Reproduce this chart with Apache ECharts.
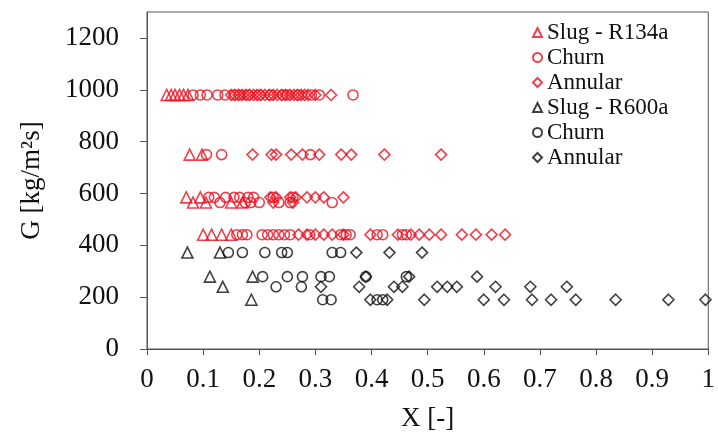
<!DOCTYPE html>
<html lang="en">
<head>
  <meta charset="UTF-8">
  <title>G vs X flow patterns</title>
  <script src="https://cdn.jsdelivr.net/npm/echarts@6/dist/echarts.min.js"></script>
  <style>
    html, body { margin: 0; padding: 0; background: #fff; }
  </style>
</head>
<body>
<div id="main" style="width: 718px; height: 438px;"></div>
<script>
  // each row: [G, list of X values]
  var slugR134a = [
    [980, [0.035, 0.043, 0.05, 0.058, 0.065, 0.073]],
    [750, [0.076, 0.098]],
    [585, [0.07, 0.095]],
    [565, [0.082, 0.105, 0.15, 0.17]],
    [441, [0.1, 0.115, 0.133, 0.15]]
  ]
  var churnR134a = [
    [980, [0.082, 0.095, 0.107, 0.126, 0.139, 0.155, 0.165, 0.18, 0.2, 0.22, 0.242, 0.25, 0.27, 0.293, 0.307, 0.367]],
    [750, [0.106, 0.133, 0.291]],
    [585, [0.11, 0.12, 0.14, 0.155, 0.165, 0.18, 0.19, 0.225, 0.26]],
    [565, [0.13, 0.175, 0.185, 0.2, 0.235, 0.255, 0.33]],
    [441, [0.16, 0.17, 0.178, 0.205, 0.215, 0.225, 0.235, 0.245, 0.255, 0.29, 0.345, 0.355, 0.362, 0.41, 0.42, 0.455, 0.462]]
  ]
  var annularR134a = [
    [980, [0.15, 0.157, 0.163, 0.17, 0.176, 0.183, 0.19, 0.196, 0.203, 0.21, 0.218, 0.225, 0.232, 0.24, 0.247, 0.255, 0.262, 0.268, 0.275, 0.281, 0.287, 0.3, 0.328]],
    [750, [0.188, 0.222, 0.23, 0.257, 0.277, 0.307, 0.346, 0.364, 0.423, 0.524]],
    [585, [0.22, 0.23, 0.255, 0.265, 0.285, 0.3, 0.315, 0.35]],
    [565, [0.225, 0.26]],
    [441, [0.27, 0.285, 0.3, 0.315, 0.33, 0.35, 0.398, 0.447, 0.47, 0.485, 0.503, 0.524, 0.561, 0.586, 0.614, 0.638]]
  ]
  var slugR600a = [
    [372, [0.072, 0.13]],
    [279, [0.112, 0.188]],
    [240, [0.135]],
    [190, [0.186]]
  ]
  var churnR600a = [
    [372, [0.145, 0.17, 0.21, 0.24, 0.25, 0.33, 0.345]],
    [279, [0.206, 0.25, 0.277, 0.31, 0.325, 0.39, 0.462]],
    [240, [0.23, 0.275]],
    [190, [0.313, 0.328, 0.41, 0.42]]
  ]
  var annularR600a = [
    [372, [0.373, 0.432, 0.49]],
    [279, [0.39, 0.467, 0.588]],
    [240, [0.31, 0.378, 0.44, 0.455, 0.517, 0.535, 0.552, 0.621, 0.683, 0.748]],
    [190, [0.398, 0.428, 0.494, 0.6, 0.636, 0.686, 0.72, 0.764, 0.835, 0.929, 0.995]]
  ]
  var yTicks = [0, 200, 400, 600, 800, 1000, 1200]

  var red = '#ee1020'
  var black = '#111111'
  var font = '"Liberation Serif", "DejaVu Serif", serif'

  function points(rows) {
    var out = []
    rows.forEach(function (r) {
      r[1].forEach(function (x) { out.push([x, r[0]]) })
    })
    return out
  }

  function series(name, rows, symbol, size, color) {
    return {
      name: name,
      type: 'scatter',
      data: points(rows),
      symbol: symbol,
      symbolSize: size,
      itemStyle: { color: 'rgba(255,255,255,0)', borderColor: color, borderWidth: 1.6 },
      emphasis: { disabled: true }
    }
  }

  var myChart = echarts.init(document.getElementById('main'))
  var option = {
    animation: false,
    grid: {
      left: 147, right: 7, top: 12, bottom: 89,
      show: true, borderColor: '#555', borderWidth: 1
    },
    legend: {
      orient: 'vertical',
      left: 527,
      top: 15,
      itemWidth: 9,
      itemHeight: 9,
      itemGap: 0,
      textStyle: { fontFamily: font, fontSize: 23, color: black, lineHeight: 25 },
      data: ['Slug - R134a', 'Churn', 'Annular', 'Slug - R600a', 'Churn ', 'Annular ']
    },
    xAxis: {
      type: 'value',
      min: 0, max: 1, interval: 0.1,
      name: 'X [-]',
      nameLocation: 'middle',
      nameGap: 56,
      nameTextStyle: { fontFamily: font, fontSize: 27, color: black },
      splitLine: { show: false },
      axisLine: { lineStyle: { color: '#555' } },
      axisTick: { inside: false, length: 6, lineStyle: { color: '#555' } },
      axisLabel: { fontFamily: font, fontSize: 27, color: black, margin: 17,
        formatter: function (v) { return String(v) } }
    },
    yAxis: {
      type: 'value',
      min: 0, max: 1300, interval: 200,
      name: 'G [kg/m²s]',
      nameLocation: 'middle',
      nameGap: 102,
      nameTextStyle: { fontFamily: font, fontSize: 27, color: black },
      splitLine: { show: false },
      axisLine: { show: true, lineStyle: { color: '#555' } },
      axisTick: { show: true, inside: false, length: 7, customValues: yTicks, lineStyle: { color: '#555' } },
      axisLabel: { fontFamily: font, fontSize: 27, color: black, margin: 28, customValues: yTicks,
        formatter: function (v) { return String(v) } }
    },
    series: [
      series('Slug - R134a', slugR134a, 'triangle', 11, red),
      series('Churn', churnR134a, 'circle', 10, red),
      series('Annular', annularR134a, 'diamond', 11, red),
      series('Slug - R600a', slugR600a, 'triangle', 11, black),
      series('Churn ', churnR600a, 'circle', 10, black),
      series('Annular ', annularR600a, 'diamond', 11, black)
    ]
  }
  myChart.setOption(option)
</script>
</body>
</html>
